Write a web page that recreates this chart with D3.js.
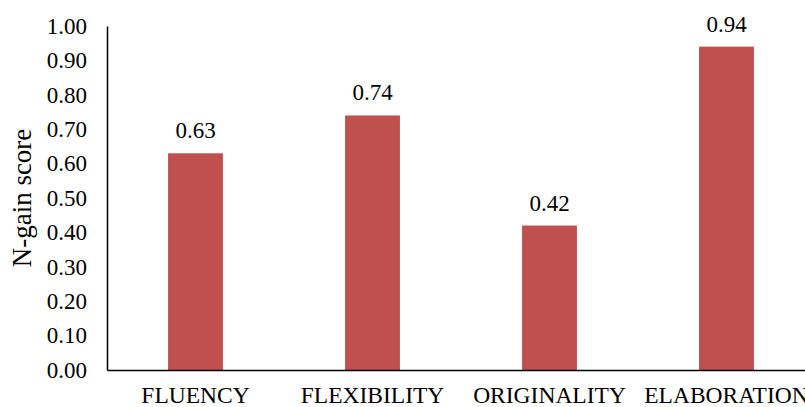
<!DOCTYPE html>
<html>
<head>
<meta charset="utf-8">
<script src="https://d3js.org/d3.v7.min.js"></script>
<style>
  body { margin: 0; background: #fff; }
</style>
</head>
<body>
<script>
  // chart data
  var categories = ["FLUENCY", "FLEXIBILITY", "ORIGINALITY", "ELABORATION"];
  var scores = [0.63, 0.74, 0.42, 0.94];
  var yTicks = [0, 0.1, 0.2, 0.3, 0.4, 0.5, 0.6, 0.7, 0.8, 0.9, 1.0];

  var width = 805, height = 407;
  var plotLeft = 107, plotRight = 815, plotTop = 26, plotBottom = 370;
  var serif = "'Liberation Serif', 'Times New Roman', serif";

  var svg = d3.select("body").append("svg")
    .attr("width", width)
    .attr("height", height);

  var x = d3.scaleBand().domain(categories).range([plotLeft, plotRight]).paddingInner(0.69).paddingOuter(0.345);
  var y = d3.scaleLinear().domain([0, 1]).range([plotBottom, plotTop]);

  // bars
  svg.selectAll("rect.bar").data(scores).enter().append("rect")
    .attr("class", "bar")
    .attr("x", function(d, i) { return x(categories[i]); })
    .attr("y", function(d) { return y(d); })
    .attr("width", x.bandwidth())
    .attr("height", function(d) { return y(0) - y(d); })
    .attr("fill", "#C0504D");

  // value labels
  svg.selectAll("text.val").data(scores).enter().append("text")
    .attr("class", "val")
    .attr("x", function(d, i) { return x(categories[i]) + x.bandwidth() / 2; })
    .attr("y", function(d) { return y(d) - 15; })
    .attr("text-anchor", "middle")
    .style("font-family", serif)
    .style("font-size", "23px")
    .style("fill", "#000")
    .text(function(d) { return d.toFixed(2); });

  // y axis
  var yAxis = svg.append("g")
    .attr("transform", "translate(" + plotLeft + ",0)")
    .call(d3.axisLeft(y).tickValues(yTicks).tickSize(0).tickPadding(20).tickFormat(d3.format(".2f")));
  yAxis.select(".domain").attr("stroke", "#000").attr("stroke-width", 1.5);
  yAxis.selectAll("text").style("font-family", serif).style("font-size", "23px").style("fill", "#000");

  // x axis
  var xAxis = svg.append("g")
    .attr("transform", "translate(0," + plotBottom + ")")
    .call(d3.axisBottom(x).tickSize(0).tickPadding(16));
  xAxis.select(".domain").attr("stroke", "#000").attr("stroke-width", 1.5);
  xAxis.selectAll("text").style("font-family", serif).style("font-size", "23.5px").style("fill", "#000");

  // y title
  svg.append("text")
    .attr("transform", "translate(31," + ((plotTop + plotBottom) / 2) + ") rotate(-90)")
    .attr("text-anchor", "middle")
    .style("font-family", serif)
    .style("font-size", "27px")
    .style("fill", "#000")
    .text("N-gain score");
</script>
</body>
</html>
